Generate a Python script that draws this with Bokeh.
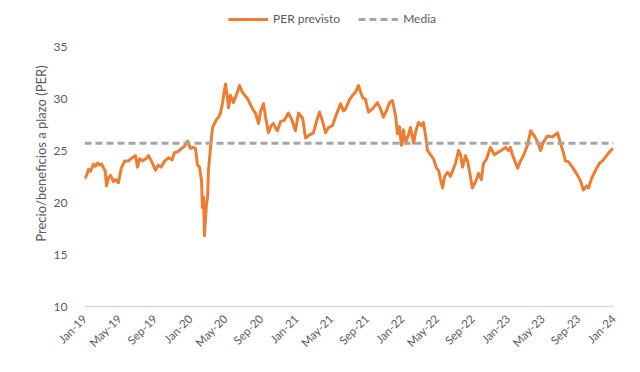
import pandas as pd
from math import pi
from bokeh.plotting import figure
from bokeh.models import Legend, LegendItem, FixedTicker, DatetimeTickFormatter, Range1d
from bokeh.embed import file_html
from bokeh.resources import INLINE

dates = [
    "2019-01-01", "2019-01-08", "2019-01-15", "2019-01-22", "2019-02-01", "2019-02-08",
    "2019-02-15", "2019-02-22", "2019-03-01", "2019-03-08", "2019-03-14", "2019-03-18",
    "2019-03-25", "2019-04-01", "2019-04-11", "2019-04-20", "2019-04-28", "2019-05-08",
    "2019-05-20", "2019-06-02", "2019-06-14", "2019-06-26", "2019-07-03", "2019-07-10",
    "2019-07-20", "2019-08-01", "2019-08-10", "2019-08-20", "2019-09-03", "2019-09-12",
    "2019-09-22", "2019-10-05", "2019-10-18", "2019-10-30", "2019-11-08", "2019-11-20",
    "2019-12-02", "2019-12-12", "2019-12-23", "2020-01-02", "2020-01-12", "2020-01-19",
    "2020-01-26", "2020-02-02", "2020-02-09", "2020-02-12", "2020-02-16", "2020-02-19",
    "2020-02-26", "2020-03-01", "2020-03-04", "2020-03-11", "2020-03-18", "2020-03-25",
    "2020-04-01", "2020-04-08", "2020-04-14", "2020-04-21", "2020-04-28", "2020-05-02",
    "2020-05-09", "2020-05-12", "2020-05-19", "2020-05-29", "2020-06-09", "2020-06-19",
    "2020-06-29", "2020-07-10", "2020-07-17", "2020-07-27", "2020-08-03", "2020-08-13",
    "2020-08-24", "2020-08-31", "2020-09-10", "2020-09-17", "2020-09-27", "2020-10-07",
    "2020-10-14", "2020-10-21", "2020-10-28", "2020-11-08", "2020-11-21", "2020-12-05",
    "2020-12-16", "2020-12-29", "2021-01-09", "2021-01-23", "2021-02-02", "2021-02-16",
    "2021-03-01", "2021-03-12", "2021-03-22", "2021-04-02", "2021-04-12", "2021-04-22",
    "2021-05-06", "2021-05-20", "2021-06-03", "2021-06-13", "2021-06-20", "2021-07-04",
    "2021-07-14", "2021-07-24", "2021-08-04", "2021-08-11", "2021-08-18", "2021-08-28",
    "2021-09-07", "2021-09-21", "2021-10-08", "2021-10-19", "2021-10-29", "2021-11-08",
    "2021-11-19", "2021-11-29", "2021-12-10", "2021-12-16", "2021-12-23", "2021-12-30",
    "2022-01-06", "2022-01-13", "2022-01-23", "2022-01-30", "2022-02-06", "2022-02-10",
    "2022-02-17", "2022-02-27", "2022-03-09", "2022-03-16", "2022-03-23", "2022-03-30",
    "2022-04-09", "2022-04-20", "2022-04-30", "2022-05-07", "2022-05-14", "2022-05-21",
    "2022-05-28", "2022-06-07", "2022-06-17", "2022-06-24", "2022-07-05", "2022-07-15",
    "2022-07-22", "2022-07-29", "2022-08-08", "2022-08-15", "2022-08-22", "2022-09-01",
    "2022-09-12", "2022-09-22", "2022-10-02", "2022-10-09", "2022-10-20", "2022-11-02",
    "2022-11-16", "2022-11-27", "2022-12-10", "2022-12-24", "2023-01-03", "2023-01-10",
    "2023-01-17", "2023-02-04", "2023-02-14", "2023-02-24", "2023-03-10", "2023-03-21",
    "2023-03-31", "2023-04-07", "2023-04-17", "2023-04-24", "2023-05-04", "2023-05-18",
    "2023-06-04", "2023-06-22", "2023-07-02", "2023-07-12", "2023-07-19", "2023-07-30",
    "2023-08-12", "2023-08-26", "2023-09-09", "2023-09-19", "2023-09-30", "2023-10-07",
    "2023-10-17", "2023-10-31", "2023-11-14", "2023-11-24", "2023-12-08", "2023-12-22",
    "2024-01-01",
]

per_previsto = [
    22.3, 22.6, 23.2, 23.0, 23.7, 23.5,
    23.8, 23.6, 23.7, 23.3, 23.0, 21.6,
    22.4, 22.6, 22.0, 22.2, 21.9, 23.3,
    24.0, 24.0, 24.3, 24.5, 23.4, 24.2,
    24.0, 24.2, 24.5, 24.0, 23.1, 23.6,
    23.4, 24.0, 24.3, 24.1, 24.8, 24.9,
    25.2, 25.4, 25.9, 25.2, 25.3, 25.2,
    23.6, 23.4, 22.1, 19.5, 20.5, 16.8,
    19.9, 20.5, 23.1, 25.3, 27.2, 27.6,
    28.0, 28.2, 28.6, 29.5, 30.8, 31.4,
    30.0, 29.1, 30.3, 29.6, 30.4, 31.25,
    30.6, 30.2, 30.0, 29.4, 29.0, 28.6,
    27.6, 28.8, 29.5, 28.2, 26.7, 27.4,
    27.6, 27.2, 26.9, 27.8, 27.9, 28.6,
    28.0, 26.9, 28.6, 28.1, 26.2, 26.5,
    26.7, 27.8, 28.7, 27.8, 26.7, 27.2,
    27.4, 28.5, 29.5, 28.8, 29.0, 29.9,
    30.3, 30.6, 31.25, 30.6, 30.1, 29.9,
    28.7, 29.0, 29.6, 29.0, 28.2, 28.8,
    29.6, 29.8, 28.3, 26.6, 27.3, 25.5,
    27.0, 25.7, 26.5, 27.2, 26.3, 25.7,
    26.8, 27.7, 27.4, 27.7, 26.5, 25.0,
    24.6, 24.2, 23.3, 23.1, 22.2, 21.4,
    22.5, 22.9, 22.5, 23.0, 23.8, 25.0,
    24.6, 23.4, 24.5, 24.0, 23.0, 21.4,
    22.0, 22.8, 22.2, 23.75, 24.2, 25.3,
    24.6, 24.8, 25.0, 25.3, 25.0, 25.3,
    24.6, 23.3, 24.0, 24.5, 25.5, 26.9,
    26.5, 26.2, 25.6, 25.0, 25.8, 26.4,
    26.3, 26.7, 25.7, 24.8, 24.0, 23.9,
    23.4, 22.8, 22.1, 21.2, 21.6, 21.4,
    22.3, 23.1, 23.8, 24.0, 24.5, 25.0,
    25.2,
]

media = 25.7

tick_dates = [
    "2019-01-01", "2019-05-01", "2019-09-01", "2020-01-01", "2020-05-01", "2020-09-01",
    "2021-01-01", "2021-05-01", "2021-09-01", "2022-01-01", "2022-05-01", "2022-09-01",
    "2023-01-01", "2023-05-01", "2023-09-01", "2024-01-01",
]
y_ticks = [10, 15, 20, 25, 30, 35]

FONT = "Lato"
TXT = "#595959"


def to_ms(d):
    return pd.Timestamp(d).timestamp() * 1000.0


x_ms = [to_ms(d) for d in dates]
x_start, x_end = x_ms[0], x_ms[-1]

# frame spans the whole height above the x axis; the top headroom holds the legend
FRAME_H = 306
y_top = 10 + (35 - 10) * FRAME_H / 260.0

p = figure(
    width=640, height=372, x_axis_type="datetime",
    output_backend="svg", toolbar_location=None,
    x_range=Range1d(x_start, x_end), y_range=Range1d(10, y_top),
    min_border_left=84, min_border_right=27, min_border_top=0, min_border_bottom=66,
)
p.outline_line_color = None
p.xgrid.visible = False
p.ygrid.visible = False

r_per = p.line(x_ms, per_previsto, line_color="#ED7D31", line_width=3, line_join="round")
r_media = p.line([x_start, x_end], [media, media], line_color="#A5A5A5",
                 line_width=3, line_dash="7 4")

p.xaxis.ticker = FixedTicker(ticks=[to_ms(d) for d in tick_dates])
fmt = "%b-%y"
p.xaxis.formatter = DatetimeTickFormatter(
    milliseconds=fmt, seconds=fmt, minsec=fmt, minutes=fmt, hourmin=fmt, hours=fmt,
    days=fmt, months=fmt, years=fmt)
p.xaxis.major_label_orientation = pi / 4
p.xaxis.axis_line_color = "#D9D9D9"
p.xaxis.axis_line_width = 1.5
p.xaxis.major_tick_line_color = None
p.xaxis.minor_tick_line_color = None
p.xaxis.major_label_text_font = FONT
p.xaxis.major_label_text_font_size = "11.5px"
p.xaxis.major_label_text_color = TXT
p.xaxis.major_label_standoff = 4

p.yaxis.ticker = FixedTicker(ticks=y_ticks)
p.yaxis.axis_line_color = None
p.yaxis.major_tick_line_color = None
p.yaxis.minor_tick_line_color = None
p.yaxis.major_label_text_font = FONT
p.yaxis.major_label_text_font_size = "12px"
p.yaxis.major_label_text_color = TXT
p.yaxis.major_label_standoff = 11
p.yaxis.axis_label = "Precio/beneficios a plazo (PER)"
p.yaxis.axis_label_text_font = FONT
p.yaxis.axis_label_text_font_size = "13px"
p.yaxis.axis_label_text_font_style = "normal"
p.yaxis.axis_label_text_color = TXT
p.yaxis.axis_label_standoff = 2

legend = Legend(
    items=[LegendItem(label="PER previsto", renderers=[r_per]),
           LegendItem(label="Media", renderers=[r_media])],
    orientation="horizontal", location=(144, FRAME_H - 26),
    label_text_font=FONT, label_text_font_size="12px", label_text_color=TXT,
    glyph_width=40, glyph_height=12, spacing=18, padding=2, margin=0,
    border_line_color=None, background_fill_alpha=0,
)
p.add_layout(legend, "center")

open("out.html", "w").write(file_html(p, INLINE))
